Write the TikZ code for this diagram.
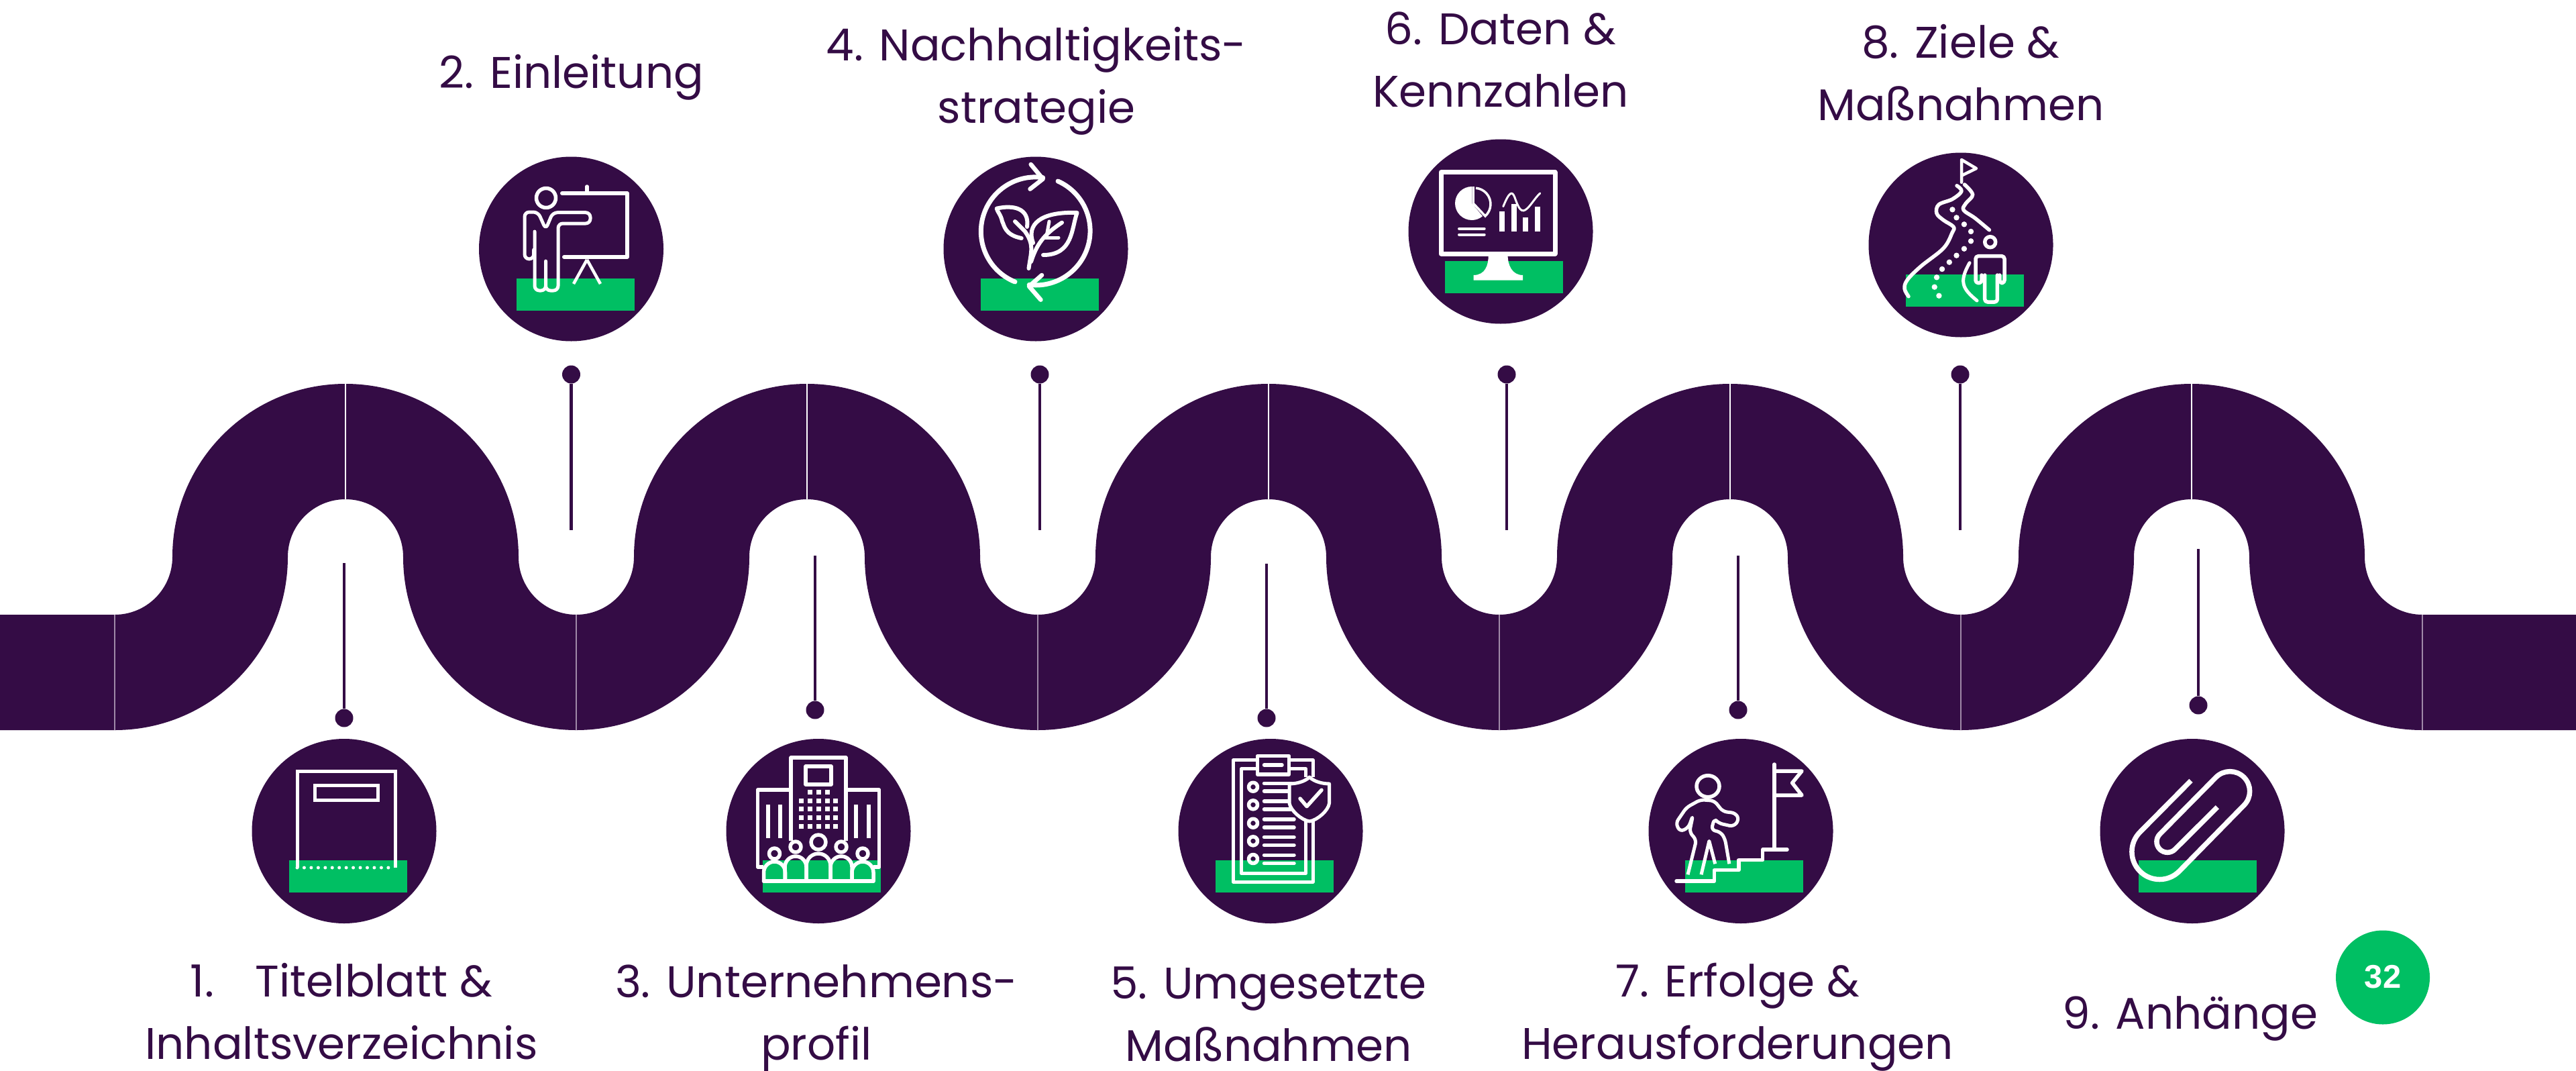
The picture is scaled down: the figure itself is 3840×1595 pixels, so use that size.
\documentclass[tikz,border=0pt]{standalone}
\usepackage{fontspec}
\setmainfont{Poppins}
\newfontfamily\badgefont{Liberation Sans}
\definecolor{pur}{HTML}{340C45}
\definecolor{grn}{HTML}{00BF63}
\definecolor{seam}{HTML}{A08AA8}
\tikzset{
  disc/.style={circle,fill=pur,draw=none,minimum size=275pt,inner sep=0pt},
  bar/.style={rectangle,fill=grn,draw=none,minimum width=176pt,minimum height=48pt,inner sep=0pt},
  pindot/.style={circle,fill=pur,draw=none,minimum size=27pt,inner sep=0pt},
  pinline/.style={draw=pur,line width=4.5pt},
  seamline/.style={draw=seam,line width=1.5pt},
  ic/.style={draw=white,line width=5.5pt,line cap=round,line join=round},
  lbl/.style={text=pur,align=center,inner sep=0pt,font=\fontsize{66}{93}\selectfont},
}
\begin{document}
\begin{tikzpicture}[x=1pt,y=-1pt]
\useasboundingbox (0,0) rectangle (3840,1595);
\fill[white] (0,0) rectangle (3840,1595);
% ribbon
\fill[pur] (0,916) -- (171,916)
  arc[start angle=90,end angle=0,radius=86]
  arc[start angle=180,end angle=360,radius=258]
  arc[start angle=180,end angle=0,radius=86]
  arc[start angle=180,end angle=360,radius=258]
  arc[start angle=180,end angle=0,radius=86]
  arc[start angle=180,end angle=360,radius=258]
  arc[start angle=180,end angle=0,radius=86]
  arc[start angle=180,end angle=360,radius=258]
  arc[start angle=180,end angle=0,radius=86]
  arc[start angle=180,end angle=360,radius=258]
  arc[start angle=180,end angle=90,radius=86]
  -- (3840,916) -- (3840,1088) -- (3611,1088)
  arc[start angle=90,end angle=180,radius=258]
  arc[start angle=0,end angle=-180,radius=86]
  arc[start angle=0,end angle=180,radius=258]
  arc[start angle=0,end angle=-180,radius=86]
  arc[start angle=0,end angle=180,radius=258]
  arc[start angle=0,end angle=-180,radius=86]
  arc[start angle=0,end angle=180,radius=258]
  arc[start angle=0,end angle=-180,radius=86]
  arc[start angle=0,end angle=180,radius=258]
  arc[start angle=0,end angle=-180,radius=86]
  arc[start angle=0,end angle=90,radius=258]
  -- (0,1088) -- cycle;
\foreach \sx in {171,859,1547,2235,2923,3611}{\draw[seamline] (\sx,916) -- (\sx,1088);}
\foreach \sx in {515,1203,1891,2579,3267}{\draw[seamline,draw=white] (\sx,572) -- (\sx,744);}
% pins
\node[pindot] (p1) at (513,1070) {}; \coordinate (e1) at (513,839); \draw[pinline] (p1) -- (e1);
\node[pindot] (p2) at (851.5,558) {}; \coordinate (e2) at (851.5,790); \draw[pinline] (p2) -- (e2);
\node[pindot] (p3) at (1215,1058) {}; \coordinate (e3) at (1215,828); \draw[pinline] (p3) -- (e3);
\node[pindot] (p4) at (1550,558) {}; \coordinate (e4) at (1550,790); \draw[pinline] (p4) -- (e4);
\node[pindot] (p5) at (1888,1070) {}; \coordinate (e5) at (1888,840); \draw[pinline] (p5) -- (e5);
\node[pindot] (p6) at (2246,558) {}; \coordinate (e6) at (2246,790); \draw[pinline] (p6) -- (e6);
\node[pindot] (p7) at (2591,1058) {}; \coordinate (e7) at (2591,828); \draw[pinline] (p7) -- (e7);
\node[pindot] (p8) at (2922,558) {}; \coordinate (e8) at (2922,790); \draw[pinline] (p8) -- (e8);
\node[pindot] (p9) at (3277,1051) {}; \coordinate (e9) at (3277,818); \draw[pinline] (p9) -- (e9);
% discs
\node[disc] (c1) at (513,1238.5) {};
\node[disc] (c2) at (851.5,371) {};
\node[disc] (c3) at (1220,1238.5) {};
\node[disc] (c4) at (1544,371) {};
\node[disc] (c5) at (1894,1238.5) {};
\node[disc] (c6) at (2237,345) {};
\node[disc] (c7) at (2595,1238.5) {};
\node[disc] (c8) at (2923,365) {};
\node[disc] (c9) at (3268,1238.5) {};
% green bars
\node[bar] (g1) at (518.5,1306) {};
\node[bar] (g2) at (857.5,438.7) {};
\node[bar] (g3) at (1225,1306) {};
\node[bar] (g4) at (1550,438.7) {};
\node[bar] (g5) at (1899.5,1306) {};
\node[bar] (g6) at (2242,413) {};
\node[bar] (g7) at (2600,1306) {};
\node[bar] (g8) at (2928.5,432.7) {};
\node[bar] (g9) at (3275.5,1306) {};
% icon 1: document
\draw[draw=white,line width=5pt] (443,1293) -- (443,1149) -- (589,1149) -- (589,1293);
\draw[draw=white,line width=5pt] (469,1170) rectangle (563,1192);
\draw[draw=white,line width=5pt,line cap=round,dash pattern=on 0pt off 10.45pt] (443,1293) -- (589,1293);
% icon 2: presenter
\draw[ic] (814,295) circle[radius=14.5];
\draw[ic,line width=6pt] (838,288) -- (934.7,288) -- (934.7,383) -- (841,383);
\draw[ic] (875,278) -- (875,288);
\draw[ic,line width=4.5pt,line cap=butt] (875,387) -- (855,423);
\draw[ic,line width=4.5pt,line cap=butt] (875,387) -- (895,423);
\draw[ic,line width=5pt,rounded corners=7pt] (797,345) -- (797,433) -- (813.5,433) -- (813.5,385) -- (813.5,433) -- (832,433) -- (832,333) -- (880,333) -- (880,316.7) -- (824,316.7) -- (813.5,341.7) -- (802,316) -- (782,316) -- (782,386) -- (795.7,386) -- (795.7,372);
% icon 3: building
\draw[draw=white,line width=5.5pt,line join=round] (1179,1253) -- (1179,1129) -- (1261,1129) -- (1261,1253);
\draw[ic] (1201,1142) rectangle (1239,1169);
\draw[draw=white,line width=5.5pt,line join=round] (1179,1177) -- (1129.5,1177) -- (1129.5,1292) -- (1138,1292);
\draw[draw=white,line width=5.5pt,line join=round] (1261,1177) -- (1310.6,1177) -- (1310.6,1292) -- (1302,1292);
\foreach \wx in {1207,1220,1233}{\fill[white] (\wx-3.5,1176.5) rectangle (\wx+3.5,1183.5);}
\foreach \wy in {1193,1205,1218,1231}{\foreach \wx in {1194,1207,1220,1233,1245}{\fill[white] (\wx-3.5,\wy-3.5) rectangle (\wx+3.5,\wy+3.5);}}
\foreach \wx in {1145,1163,1276,1295}{\draw[draw=white,line width=5.5pt] (\wx,1199) -- (\wx,1249);}
\draw[ic,fill=pur] (1220,1255) circle[radius=11];
\draw[ic,fill=pur] (1186,1262) circle[radius=8];
\draw[ic,fill=pur] (1254,1262) circle[radius=8];
\draw[ic,fill=pur] (1154.5,1272) circle[radius=8];
\draw[ic,fill=pur] (1286,1272) circle[radius=8];
\draw[ic] (1138.5,1313) -- (1302,1313);
\draw[ic] (1138.5,1313) -- (1138.5,1300) arc[start angle=180,end angle=360,radius=16] -- (1170.5,1313);
\draw[ic] (1170,1313) -- (1170,1292) arc[start angle=180,end angle=360,radius=16] -- (1202,1313);
\draw[ic] (1202,1313) -- (1202,1290) arc[start angle=180,end angle=360,radius=18] -- (1238,1313);
\draw[ic] (1238,1313) -- (1238,1292) arc[start angle=180,end angle=360,radius=16] -- (1270,1313);
\draw[ic] (1270,1313) -- (1270,1300) arc[start angle=180,end angle=360,radius=16] -- (1302,1313);
% icon 4: cycle and leaf
\draw[ic,line width=7pt] (1513,420) arc[start angle=112,end angle=278,radius=81];
\draw[ic,line width=7pt] (1577,270) arc[start angle=-66,end angle=97,radius=81];
\draw[ic,line width=6.5pt] (1536.7,245) -- (1554.6,266.7) -- (1535.5,281.7);
\draw[ic,line width=6.5pt] (1551.4,446.7) -- (1534,426.7) -- (1553,410);
\draw[ic,line width=6pt] (1522.7,355) .. controls (1497,350) and (1497,335) .. (1494,330) .. controls (1492,320) and (1487,316) .. (1485.7,310.7) .. controls (1510,305) and (1535,310) .. (1531,338);
\draw[ic,line width=6pt] (1533.5,400) .. controls (1537,375) and (1542,365) .. (1528,345) -- (1513,330);
\draw[ic,line width=6pt] (1540,362) .. controls (1530,335) and (1550,315) .. (1605.6,317) .. controls (1597,340) and (1600,380) .. (1555,380);
\draw[ic,line width=6pt] (1537,390) .. controls (1545,365) and (1555,350) .. (1583,331.7);
\draw[ic,line width=5pt] (1564,330) -- (1560,352);
\draw[ic,line width=5pt] (1557,354) -- (1578,354);
% icon 5: checklist
\draw[draw=white,line width=5pt,line join=round] (1957,1158) -- (1957,1132.7) -- (1838.6,1132.7) -- (1838.6,1314.3) -- (1957,1314.3) -- (1957,1223);
\draw[draw=white,line width=5pt,line join=round] (1946.4,1158) -- (1946.4,1145.7) -- (1850.7,1145.7) -- (1850.7,1301.7) -- (1946.4,1301.7) -- (1946.4,1223);
\draw[ic,fill=pur] (1874.3,1126.7) rectangle (1921.5,1154);
\draw[ic] (1884.5,1140) -- (1911,1140);
\foreach \cy in {1172.7,1199.3,1226.7,1253.3,1280}{\draw[ic] (1868,\cy) circle[radius=6.5];}
\foreach \ly in {1167.3,1179,1194,1206}{\draw[ic] (1884.5,\ly) -- (1925,\ly);}
\foreach \ly in {1221,1233,1247.7,1259.7,1274.3,1286.7}{\draw[ic] (1884.5,\ly) -- (1929,\ly);}
\draw[ic,line width=5pt,fill=pur] (1952,1158) .. controls (1945,1165) and (1932,1168) .. (1922,1168) -- (1922,1197) .. controls (1924,1208) and (1940,1222) .. (1952,1224) .. controls (1964,1222) and (1980,1208) .. (1981.5,1197) -- (1981.5,1168) .. controls (1972,1168) and (1959,1165) .. (1952,1158) -- cycle;
\draw[ic] (1938,1190) -- (1948,1201.7) -- (1970,1177.3);
% icon 6: monitor
\draw[draw=white,line width=7pt,line join=round] (2148,256.7) rectangle (2318,378);
\fill[white] (2194,303) -- (2194,278) arc[start angle=-90,end angle=-310,radius=25] -- cycle;
\draw[draw=white,line width=3.5pt] (2196,278) -- (2196,303) -- (2214,322) arc[start angle=48,end angle=-85,radius=24];
\foreach \ly in {340.7,349.7}{\draw[draw=white,line width=4pt,line cap=round] (2175,\ly) -- (2212.7,\ly);}
\fill[white] (2235,315) rectangle (2243,345);
\fill[white] (2253,304) rectangle (2261,345);
\fill[white] (2270,324) rectangle (2278,345);
\fill[white] (2288,308) rectangle (2296,345);
\draw[draw=white,line width=3pt,line cap=round] (2240.8,307.7) .. controls (2250,285) and (2254,285) .. (2257.5,293) .. controls (2262,305) and (2266,318) .. (2274,312.7) .. controls (2281,308) and (2288,295) .. (2295.7,288);
\fill[white] (2218.7,380) .. controls (2219,395) and (2214,410) .. (2196.6,410) -- (2196.6,417.7) -- (2270,417.7) -- (2270,410) .. controls (2254,410) and (2247.5,395) .. (2247.5,380) -- cycle;
% icon 7: climbing
\draw[ic] (2546,1171.7) ellipse[x radius=17,y radius=16];
\draw[ic] (2645,1139) -- (2645,1262.7);
\draw[ic] (2645,1149) -- (2686,1149) -- (2671.6,1166.7) -- (2686,1185) -- (2645,1185);
\draw[ic] (2499,1313) -- (2555.5,1313) -- (2555.5,1296.7) -- (2591.8,1296.7) -- (2591.8,1281.7) -- (2627.5,1281.7) -- (2627.5,1266) -- (2664,1266);
\draw[ic,line width=5pt,line cap=butt,rounded corners=6pt] (2516,1303.3) -- (2528.7,1251.7) -- (2518.5,1240) -- (2523.6,1215) -- (2517,1233.3) -- (2504.4,1239.3) -- (2498,1226.7) -- (2514,1203.3) -- (2535,1191.7) -- (2555.5,1193.3) -- (2568.2,1209.3) -- (2587.4,1211.7) -- (2592.4,1221.7) -- (2584,1231.7) -- (2561.8,1226.7) -- (2555.5,1220) -- (2551,1236.7) -- (2565,1240) -- (2571.4,1250) -- (2577.8,1287.3);
\draw[ic,line width=5pt,line cap=butt,line join=round] (2536,1303.3) -- (2547.8,1253.3) -- (2556.7,1287.3);
% icon 8: road
\draw[ic,line width=4.5pt] (2924,271.7) -- (2924,238) -- (2946,251) -- (2924,261.7);
\draw[ic,line width=5.5pt] plot[smooth,tension=0.6] coordinates {(2917,276.7) (2924,285) (2910.5,296.7) (2890,305) (2887,318) (2897,328) (2912,338) (2910,347) (2897,370) (2863.6,396.7) (2843.5,416.7) (2839,430) (2845,441.7)};
\draw[ic,line width=5.5pt] plot[smooth,tension=0.6] coordinates {(2928.5,275) (2940.6,290) (2930.5,303) (2927,313) (2944,325) (2965.4,342.7)};
\foreach \dx/\dy in {2910.4/312.3,2916.5/324.3,2927.9/334.3,2938/345,2938/359.3,2927.9/370.7,2916.5/380.7,2905.8/390.7,2895/401,2887/413.3,2883.7/427.7,2890.4/440.7}{\fill[white] (\dx,\dy) circle[radius=4.2];}
\draw[ic,line width=5.5pt] (2966.7,360.7) circle[radius=8];
\draw[ic,line width=5.5pt,rounded corners=4pt] (2954,410) -- (2954,421.7) -- (2945,421.7) -- (2945,381.7) -- (2988,381.7) -- (2988,421.7) -- (2980.8,421.7) -- (2980.8,410);
\draw[ic,line width=5.5pt,rounded corners=4pt] (2958.7,410) -- (2958.7,450) -- (2977.4,450) -- (2977.4,410);
\draw[ic,line width=5pt] (2936,391.7) .. controls (2920,420) and (2925,430) .. (2947,448);
% icon 9: paper clip
\draw[draw=white,line width=7.5pt,line join=round] (3266,1163.3) -- (3190,1240) arc[start angle=225,end angle=45,radius=41.3] -- (3345,1200) arc[start angle=45,end angle=-135,radius=29.5] -- (3219.6,1243) arc[start angle=225,end angle=45,radius=16] -- (3305.4,1202.7);
% badge
\node[circle,fill=grn,minimum size=140pt,inner sep=0pt,text=white,font=\badgefont\bfseries\fontsize{49}{49}\selectfont] (b) at (3552,1456.5) {\raisebox{3pt}{32}};
% labels
\node[lbl] (t1) at (509,1507.5) {1.\hspace{62pt}Titelblatt \&\\Inhaltsverzeichnis};
\node[lbl] (t2) at (852,115) {2. Einleitung};
\node[lbl] (t3) at (1217,1517) {3. Unternehmens-\\profil};
\node[lbl] (t4) at (1545,121) {4. Nachhaltigkeits-\\strategie};
\node[lbl] (t5) at (1891,1511) {5. Umgesetzte\\Maßnahmen};
\node[lbl] (t6) at (2237,89) {6. Daten \&\\Kennzahlen};
\node[lbl] (t7) at (2590,1516) {7. Erfolge \&\\Herausforderungen};
\node[lbl] (t8) at (2923,108) {8. Ziele \&\\Maßnahmen};
\node[lbl] (t9) at (3265,1518) {9. Anhänge};
\end{tikzpicture}
\end{document}
